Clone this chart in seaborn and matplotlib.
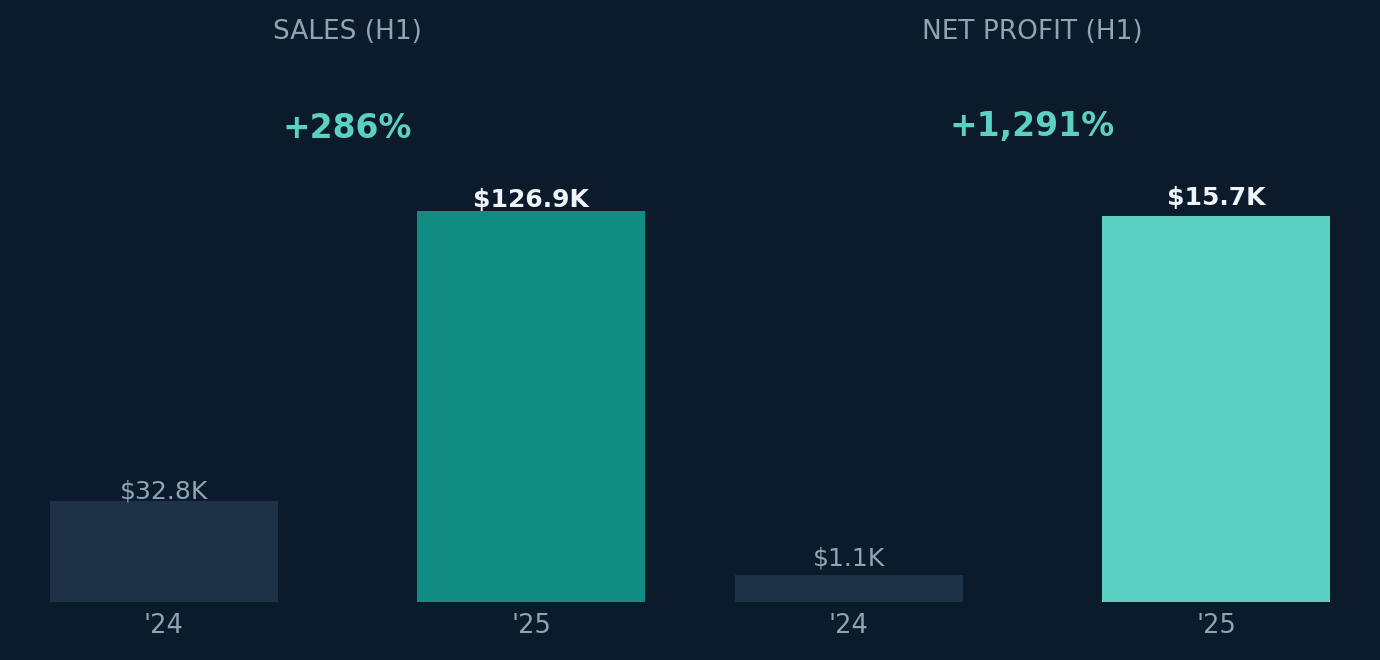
import matplotlib
matplotlib.use("Agg")
import matplotlib.pyplot as plt
import seaborn as sns
import pandas as pd

# ---- data ----
years = ["'24", "'25"]
panel_titles = ["SALES (H1)", "NET PROFIT (H1)"]
sales_values = [32.8, 126.9]          # $K
profit_values = [1.1, 15.7]           # $K
sales_labels = ["$32.8K", "$126.9K"]
profit_labels = ["$1.1K", "$15.7K"]
growth_labels = ["+286%", "+1,291%"]

BG = "#0b1b2b"
DARK_BAR = "#1e3247"
GRAY = "#8fa4b4"
WHITE = "#eef4f7"
TEAL_DARK = "#108c82"
TEAL_LIGHT = "#5dd0c4"

sns.set_theme(style="white")
plt.rcParams["font.family"] = ["DejaVu Sans"]

fig = plt.figure(figsize=(13.8, 6.6), dpi=100, facecolor=BG)

W, H = 1380, 660
panels = [
    dict(values=sales_values, labels=sales_labels, title=panel_titles[0],
         growth=growth_labels[0], colors=[DARK_BAR, TEAL_DARK],
         left=50, headroom=1.335, pct_base=138, offsets=[2, 4]),
    dict(values=profit_values, labels=profit_labels, title=panel_titles[1],
         growth=growth_labels[1], colors=[DARK_BAR, TEAL_LIGHT],
         left=735, headroom=1.352, pct_base=136, offsets=[9, 11]),
]

ax_bottom_px, ax_top_px, ax_w_px = 602, 80, 595

for p in panels:
    ax = fig.add_axes([p["left"] / W, 1 - ax_bottom_px / H, ax_w_px / W,
                       (ax_bottom_px - ax_top_px) / H])
    ax.set_facecolor(BG)
    df = pd.DataFrame({"year": years, "value": p["values"]})
    sns.barplot(data=df, x="year", y="value", hue="year", palette=p["colors"],
                width=0.62, legend=False, ax=ax, saturation=1, linewidth=0)
    ax.set_xlim(-0.31, 1.31)
    ax.set_ylim(0, max(p["values"]) * p["headroom"])
    for s in ax.spines.values():
        s.set_visible(False)
    ax.set_yticks([])
    ax.set_xlabel("")
    ax.set_ylabel("")
    ax.tick_params(axis="x", length=0, pad=8, labelsize=18.5, labelcolor=GRAY)

    for i, (v, lab) in enumerate(zip(p["values"], p["labels"])):
        if i == 0:
            ax.annotate(lab, (i, v), xytext=(0, p["offsets"][i]),
                        textcoords="offset pixels", ha="center",
                        va="baseline", fontsize=18, color=GRAY)
        else:
            ax.annotate(lab, (i, v), xytext=(0, p["offsets"][i]),
                        textcoords="offset pixels", ha="center",
                        va="baseline", fontsize=18, fontweight="bold",
                        color=WHITE)

    cx = (p["left"] + ax_w_px / 2) / W
    fig.text(cx, 1 - 32 / H, p["title"], ha="center", va="center",
             fontsize=19, color=GRAY)
    fig.text(cx, 1 - p["pct_base"] / H, p["growth"], ha="center",
             va="baseline", fontsize=23.8, fontweight="bold", color=TEAL_LIGHT)

fig.savefig("out.png", dpi=100, facecolor=BG)
